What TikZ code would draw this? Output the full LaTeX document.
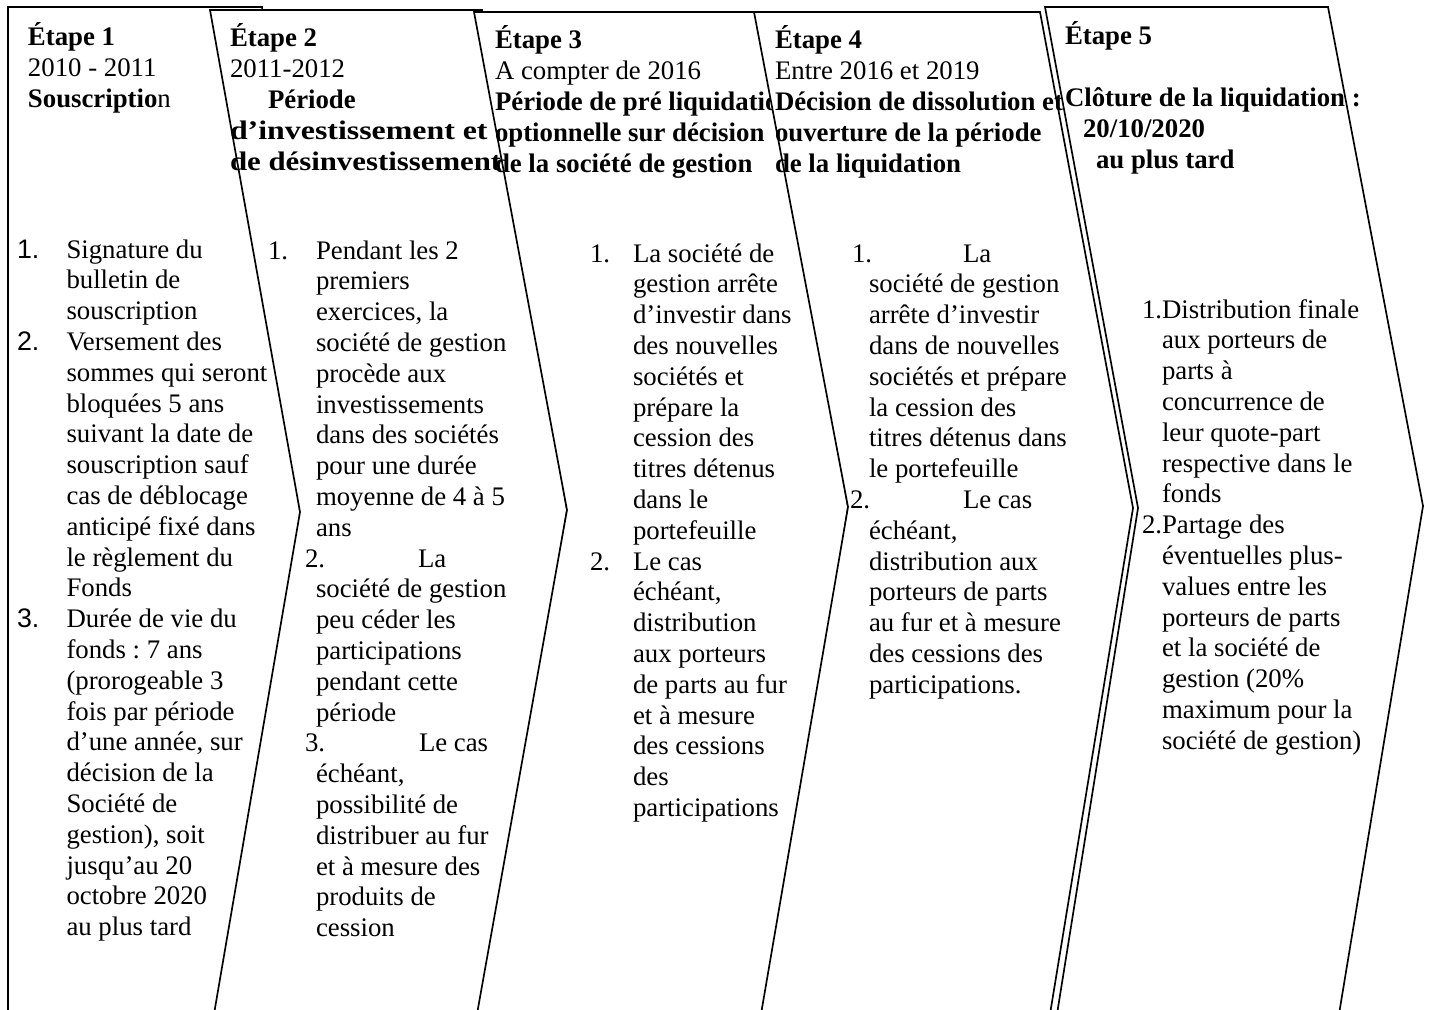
\documentclass[tikz,border=0pt]{standalone}
\usepackage{fontspec}
\setmainfont{Liberation Serif}
\newfontfamily\arialf{Liberation Sans}
\frenchspacing
\newdimen\pxu \pxu=0.448pt
\newcommand{\Nm}[2]{\llap{\makebox[#1\pxu][l]{#2}}}
\newcommand{\Hs}[1]{\hspace*{#1\pxu}}
\newcommand{\Wide}[2]{\textbf{\addfontfeatures{FakeStretch=#1}#2}}
\tikzset{
  chev/.style={draw=black, fill=white, line width=0.75pt, line join=miter},
  txt/.style={anchor=base west, inner sep=0pt, outer sep=0pt, font=\fontsize{12pt}{13.8pt}\selectfont\frenchspacing}
}
\newcommand{\Blk}[1]{\begin{tabular}[t]{@{}l@{}}#1\end{tabular}}
\begin{document}
\begin{tikzpicture}[x=0.448pt, y=-0.448pt]
\useasboundingbox (0,0) rectangle (1430,1009);
\clip (0,0) rectangle (1430,1009);
\fill[white] (0,0) rectangle (1430,1009);
% chevrons
\draw[chev] (8,7) -- (262,7) -- (300,512) -- (262,1014) -- (8,1014) -- cycle;
\draw[chev] (210,10) -- (482,10) -- (567,510) -- (483,1014) -- (214,1014) -- (300,512) -- cycle;
\draw[chev] (474,12) -- (760,12) -- (848,507) -- (768,1014) -- (477,1014) -- (567,510) -- cycle;
\draw[chev] (754,12) -- (1040,12) -- (1133,508) -- (1050,1014) -- (761,1014) -- (848,507) -- cycle;
\draw[chev] (1045,7) -- (1328,7) -- (1423,506) -- (1339,1014) -- (1057,1014) -- (1138,508) -- cycle;

% headers
\node[txt] (h1) at (28,46) {\Blk{\textbf{Étape 1}\\ 2010 - 2011\\ \textbf{Souscriptio}n}};
\node[txt] (h2) at (230,47) {\Blk{\textbf{Étape 2}\\ 2011-2012\\ \Hs{38}\textbf{Période}\\ \Wide{1.19}{d’investissement et}\\ \Wide{1.15}{de désinvestissement}}};
\begin{scope}
\clip (0,0) -- (751.7,0) -- (848,507) -- (0,507) -- cycle;
\node[txt] (h3) at (495,49) {\Blk{\textbf{Étape 3}\\ A compter de 2016\\ \textbf{Période de pré liquidation}\\ \textbf{optionnelle sur décision}\\ \textbf{de la société de gestion}}};
\end{scope}
\node[txt] (h4) at (775,49) {\Blk{\textbf{Étape 4}\\ Entre 2016 et 2019\\ \textbf{Décision de dissolution et}\\ \textbf{ouverture de la période}\\ \textbf{de la liquidation}}};
\node[txt] (h5) at (1065,45) {\Blk{\textbf{Étape 5}\\ \mbox{}\\ \textbf{Clôture de la liquidation :}\\ \Hs{18}\textbf{20/10/2020}\\ \Hs{31}\textbf{au plus tard}}};

% lists
\node[txt] (l1) at (66.5,258) {\Blk{\Nm{49.5}{\arialf 1.}Signature du\\ bulletin de\\ souscription\\
\Nm{49.5}{\arialf 2.}Versement des\\ sommes qui seront\\ bloquées 5 ans\\ suivant la date de\\ souscription sauf\\ cas de déblocage\\ anticipé fixé dans\\ le règlement du\\ Fonds\\
\Nm{49.5}{\arialf 3.}Durée de vie du\\ fonds : 7 ans\\ (prorogeable 3\\ fois par période\\ d’une année, sur\\ décision de la\\ Société de\\ gestion), soit\\ jusqu’au 20\\ octobre 2020\\ au plus tard}};

\node[txt] (l2) at (316,259) {\Blk{\Nm{48}{1.}Pendant les 2\\ premiers\\ exercices, la\\ société de gestion\\ procède aux\\ investissements\\ dans des sociétés\\ pour une durée\\ moyenne de 4 à 5\\ ans\\
\Nm{11}{2.}\Hs{102}La\\ société de gestion\\ peu céder les\\ participations\\ pendant cette\\ période\\
\Nm{11}{3.}\Hs{103}Le cas\\ échéant,\\ possibilité de\\ distribuer au fur\\ et à mesure des\\ produits de\\ cession}};

\node[txt] (l3) at (633,262) {\Blk{\Nm{43}{1.}La société de\\ gestion arrête\\ d’investir dans\\ des nouvelles\\ sociétés et\\ prépare la\\ cession des\\ titres détenus\\ dans le\\ portefeuille\\
\Nm{43}{2.}Le cas\\ échéant,\\ distribution\\ aux porteurs\\ de parts au fur\\ et à mesure\\ des cessions\\ des\\ participations}};

\node[txt] (l4) at (869,262) {\Blk{\Nm{17}{1.}\Hs{94}La\\ société de gestion\\ arrête d’investir\\ dans de nouvelles\\ sociétés et prépare\\ la cession des\\ titres détenus dans\\ le portefeuille\\
\Nm{19}{2.}\Hs{94}Le cas\\ échéant,\\ distribution aux\\ porteurs de parts\\ au fur et à mesure\\ des cessions des\\ participations.}};

\node[txt] (l5) at (1162,318) {\Blk{\Nm{20}{1.}Distribution finale\\ aux porteurs de\\ parts à\\ concurrence de\\ leur quote-part\\ respective dans le\\ fonds\\
\Nm{20}{2.}Partage des\\ éventuelles plus-\\ values entre les\\ porteurs de parts\\ et la société de\\ gestion (20\%\\ maximum pour la\\ société de gestion)}};
\end{tikzpicture}
\end{document}
